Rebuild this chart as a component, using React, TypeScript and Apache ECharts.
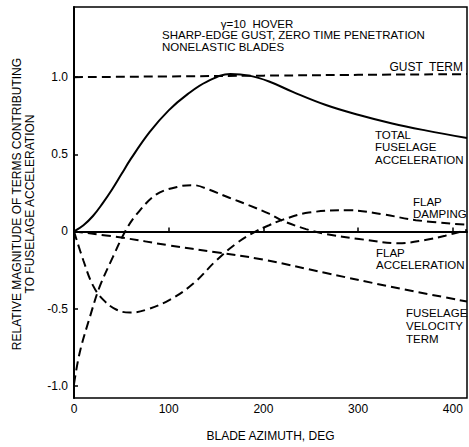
import React, { useEffect, useRef } from "react";
import * as echarts from "echarts";

// Data (x = blade azimuth, deg; y = relative magnitude)
const totalX = [0, 10, 20, 30, 40, 50, 60, 80, 100, 120, 140, 165, 185, 206, 231, 266, 301, 336, 371, 415];
const totalY = [0, 0.04, 0.1, 0.18, 0.27, 0.37, 0.47, 0.645, 0.785, 0.89, 0.97, 1.02, 1.01, 0.972, 0.905, 0.82, 0.755, 0.7, 0.655, 0.605];

const gustX = [0, 100, 200, 300, 415];
const gustY = [1.0, 1.005, 1.01, 1.015, 1.02];

const flapAccX = [0, 6, 17, 27, 41, 54, 66, 87, 112, 126, 143, 164, 185, 206, 220, 245, 266, 301, 343, 371, 392, 415];
const flapAccY = [-0.99, -0.786, -0.55, -0.36, -0.167, 0, 0.11, 0.24, 0.293, 0.3, 0.27, 0.218, 0.169, 0.115, 0.07, 0.015, -0.017, -0.049, -0.077, -0.056, -0.028, 0.01];

const flapDampX = [0, 10, 20, 31, 45, 59, 76, 101, 126, 150, 171, 192, 206, 220, 248, 290, 326, 361, 415];
const flapDampY = [0, -0.19, -0.35, -0.444, -0.508, -0.526, -0.508, -0.444, -0.338, -0.19, -0.08, 0.0, 0.04, 0.075, 0.122, 0.137, 0.111, 0.073, 0.043];

const velX = [0, 50, 100, 150, 200, 266, 336, 415];
const velY = [0, -0.04, -0.09, -0.135, -0.183, -0.27, -0.36, -0.455];

const xTicks = [0, 100, 200, 300, 400];
const yTicks = [-1, -0.5, 0, 0.5, 1];

const titleLines = ["γ=10  HOVER", "SHARP-EDGE GUST, ZERO TIME PENETRATION", "NONELASTIC BLADES"];
const yNameLines = ["RELATIVE MAGNITUDE OF TERMS CONTRIBUTING", "TO FUSELAGE ACCELERATION"];

const FONT = "Liberation Sans";

const zip = (xs: number[], ys: number[]) => xs.map((x, i) => [x, ys[i]]);

export default function App() {
  const ref = useRef<HTMLDivElement>(null);
  useEffect(() => {
    if (!ref.current) return;
    const chart = echarts.init(ref.current, null, { renderer: "svg" });
    const dashed = { color: "#000", width: 2, type: [9, 5] as any };
    const txt = (x: number, y: number, text: string, size = 12, align = "left", lineHeight = 12, extra: any = {}) => ({
      type: "text",
      x,
      y,
      style: { text, fill: "#000", fontSize: size, fontFamily: FONT, align, verticalAlign: "middle", lineHeight },
      ...extra,
    });
    chart.setOption({
      animation: false,
      backgroundColor: "#fff",
      grid: { left: 74, right: 2, top: 7, bottom: 44, show: true, borderColor: "#000", borderWidth: 1.5, containLabel: false },
      xAxis: {
        type: "value",
        min: 0,
        max: 415,
        name: "BLADE AZIMUTH, DEG",
        nameLocation: "middle",
        nameGap: 38,
        nameTextStyle: { color: "#000", fontFamily: FONT, fontSize: 12, verticalAlign: "middle" },
        axisLine: { show: true, lineStyle: { color: "#000", width: 2 } },
        axisTick: { show: true, inside: true, length: 4, customValues: xTicks, lineStyle: { color: "#000", width: 1.5 } },
        axisLabel: { customValues: xTicks, color: "#000", fontFamily: FONT, fontSize: 12, margin: 5 },
        splitLine: { show: false },
      },
      yAxis: {
        type: "value",
        min: -1.08,
        max: 1.455,
        axisLine: { show: true, lineStyle: { color: "#000", width: 2 } },
        axisTick: { show: true, inside: true, length: 4, customValues: yTicks, lineStyle: { color: "#000", width: 1.5 } },
        axisLabel: {
          customValues: yTicks,
          color: "#000",
          fontFamily: FONT,
          fontSize: 12,
          margin: 6,
          formatter: (v: number) => (v === 0 ? "0" : v.toFixed(1)),
        },
        splitLine: { show: false },
      },
      series: [
        {
          name: "TOTAL FUSELAGE ACCELERATION",
          type: "line",
          data: zip(totalX, totalY),
          smooth: 0.4,
          showSymbol: false,
          lineStyle: { color: "#000", width: 2 },
          markLine: {
            silent: true,
            symbol: "none",
            label: { show: false },
            lineStyle: { color: "#000", width: 1.5, type: "solid" },
            data: [{ yAxis: 0 }],
          },
        },
        { name: "GUST TERM", type: "line", data: zip(gustX, gustY), smooth: true, showSymbol: false, lineStyle: dashed },
        { name: "FLAP ACCELERATION", type: "line", data: zip(flapAccX, flapAccY), smooth: 0.35, showSymbol: false, lineStyle: dashed },
        { name: "FLAP DAMPING", type: "line", data: zip(flapDampX, flapDampY), smooth: 0.4, showSymbol: false, lineStyle: dashed },
        { name: "FUSELAGE VELOCITY TERM", type: "line", data: zip(velX, velY), smooth: 0.4, showSymbol: false, lineStyle: dashed },
      ],
      graphic: [
        txt(257, 23.5, titleLines[0], 11.5, "center"),
        txt(162, 41, titleLines[1] + "\n" + titleLines[2], 11.5, "left", 11.5),
        txt(463, 67, "GUST  TERM", 12, "right"),
        txt(375, 147, "TOTAL\nFUSELAGE\nACCELERATION", 11.5, "left", 12.5),
        txt(413, 208, "FLAP\nDAMPING", 11.5, "left", 12.5),
        txt(376, 259, "FLAP\nACCELERATION", 11.5, "left", 12.5),
        txt(406, 326, "FUSELAGE\nVELOCITY\nTERM", 11.5, "left", 13),
        txt(23.5, 204, yNameLines[0] + "\n" + yNameLines[1], 12, "center", 12.5, { rotation: Math.PI / 2 }),
      ],
    });
    return () => chart.dispose();
  }, []);
  return (
    <div
      ref={ref}
      style={{ position: "absolute", left: 0, top: 0, width: 469, height: 447, background: "#fff" }}
    />
  );
}
